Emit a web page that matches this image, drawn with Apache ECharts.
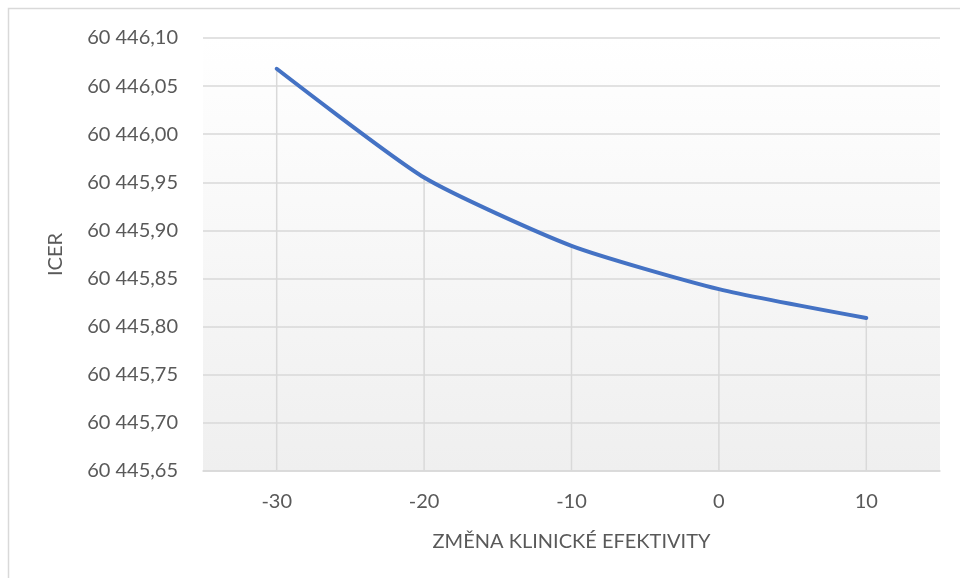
<!DOCTYPE html>
<html>
<head>
<meta charset="utf-8">
<script src="https://cdn.jsdelivr.net/npm/echarts@6/dist/echarts.min.js"></script>
<style>html,body{margin:0;padding:0;background:#fff}#c{width:960px;height:578px}</style>
</head>
<body>
<div id="c"></div>
<script>
const categories = ['-30', '-20', '-10', '0', '10'];
const icerValues = [60446.068, 60445.955, 60445.884, 60445.839, 60445.809];
const yMin = 60445.65, yMax = 60446.10, yStep = 0.05;
const xAxisTitle = 'ZMĚNA KLINICKÉ EFEKTIVITY';
const yAxisTitle = 'ICER';

function fmt(v) {
  const s = v.toFixed(2);
  const [ip, dp] = s.split('.');
  return ip.replace(/\B(?=(\d{3})+(?!\d))/g, ' ') + ',' + dp;
}

const chart = echarts.init(document.getElementById('c'));
const font = 'Lato, "Open Sans", sans-serif';
chart.setOption({
  animation: false,
  textStyle: { fontFamily: font },
  graphic: [{
    type: 'rect', shape: { x: 8.5, y: 8.5, width: 1000, height: 1000 },
    style: { fill: 'none', stroke: '#d9d9d9', lineWidth: 1.5 }, z: -10
  }],
  grid: {
    left: 203, right: 20, top: 38, bottom: 107, show: true, borderWidth: 0,
    backgroundColor: new echarts.graphic.LinearGradient(0, 0, 0, 1, [
      { offset: 0, color: '#ffffff' }, { offset: 1, color: '#efefef' }
    ])
  },
  xAxis: {
    type: 'category', data: categories, boundaryGap: true,
    name: xAxisTitle, nameLocation: 'middle', nameGap: 61,
    nameTextStyle: { color: '#595959', fontSize: 20, fontFamily: font },
    axisLine: { lineStyle: { color: '#d9d9d9', width: 1.5 } },
    axisTick: { show: false },
    axisLabel: { color: '#595959', fontSize: 20, margin: 21 },
    splitLine: { show: false }
  },
  yAxis: {
    type: 'value', min: yMin, max: yMax, interval: yStep,
    name: yAxisTitle, nameLocation: 'middle', nameGap: 137,
    nameTextStyle: { color: '#595959', fontSize: 20, fontFamily: font },
    axisLine: { show: false }, axisTick: { show: false },
    axisLabel: { color: '#595959', fontSize: 20, margin: 25, formatter: fmt },
    splitLine: { lineStyle: { color: '#d9d9d9', width: 1.5 } }
  },
  series: [{
    type: 'bar', data: icerValues, barWidth: 1.5, silent: true,
    itemStyle: { color: '#d9d9d9' }, z: 1
  }, {
    type: 'line', data: icerValues, smooth: 0.2, showSymbol: false,
    lineStyle: { color: '#4472C4', width: 4, cap: 'round' }, z: 3
  }]
});
</script>
</body>
</html>
